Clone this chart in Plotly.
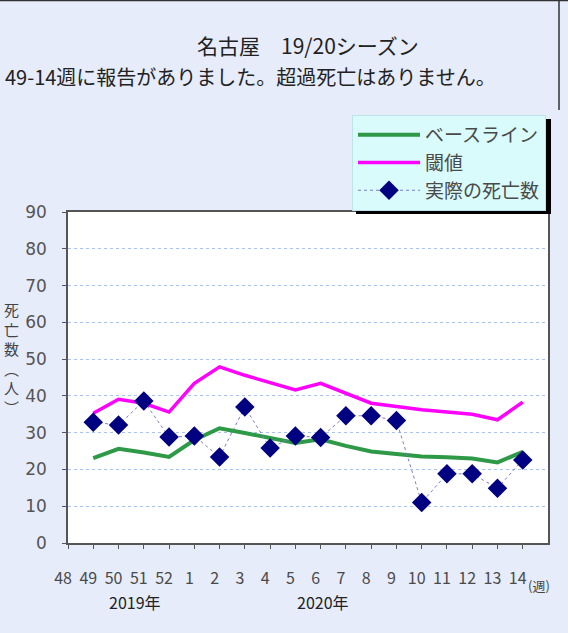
import plotly.graph_objects as go

weeks = ["48", "49", "50", "51", "52", "1", "2", "3", "4", "5", "6", "7",
         "8", "9", "10", "11", "12", "13", "14"]
data_weeks = weeks[1:]
baseline = [23.1, 25.6, 24.6, 23.4, 28.0, 31.2, 29.9, 28.5, 27.2, 28.2,
            26.4, 24.9, 24.2, 23.5, 23.3, 23.0, 21.9, 24.8]
threshold = [35.3, 39.1, 38.0, 35.6, 43.4, 47.9, 45.6, 43.5, 41.6, 43.4,
             40.7, 38.0, 37.1, 36.2, 35.6, 35.0, 33.5, 38.3]
actual = [32.8, 32.1, 38.6, 28.8, 29.1, 23.4, 37.0, 25.8, 29.1, 28.7,
          34.6, 34.6, 33.3, 11.0, 18.8, 18.8, 14.9, 22.6]
yticks = [0, 10, 20, 30, 40, 50, 60, 70, 80, 90]

FONT = "Noto Sans CJK JP"
L, T, PW, PH = 68, 212, 480, 331  # plot area in pixels


def px(x):
    return (x - L) / PW


def py(y):
    return (T + PH - y) / PH


fig = go.Figure()
fig.add_trace(go.Scatter(
    x=data_weeks, y=baseline, name="ベースライン", mode="lines",
    line=dict(color="#2E9A48", width=4)))
fig.add_trace(go.Scatter(
    x=data_weeks, y=threshold, name="閾値", mode="lines",
    line=dict(color="#FF00FF", width=3.5)))
fig.add_trace(go.Scatter(
    x=data_weeks, y=actual, name="実際の死亡数", mode="lines+markers",
    line=dict(color="#7C7CC8", width=1, dash="dot"),
    marker=dict(symbol="diamond", size=15, color="#000080",
                line=dict(width=0))))

fig.update_layout(
    width=568, height=633,
    margin=dict(l=L, r=568 - L - PW, t=T, b=633 - T - PH),
    paper_bgcolor="#E7ECFA",
    plot_bgcolor="#FFFFFF",
    font=dict(family=FONT, color="#444444"),
    showlegend=True,
    legend=dict(
        x=px(352), y=py(115), xanchor="left", yanchor="top",
        bgcolor="#D9FBFB", bordercolor="#BFE3EA", borderwidth=1,
        font=dict(size=19, color="#4A4A4A", family=FONT),
        itemwidth=62, tracegroupgap=0, traceorder="normal",
    ),
    xaxis=dict(
        type="category", categoryorder="array", categoryarray=weeks,
        range=[0, 19], tickmode="array", tickvals=weeks, ticktext=weeks,
        showgrid=False, zeroline=False,
        showline=True, linecolor="#555555", linewidth=1.5, mirror=True,
        ticks="outside", ticklen=4, tickcolor="#555555",
        tickfont=dict(size=16, color="#4A4A4A", family=FONT),
        ticklabelstandoff=16, ticklabelshift=-5,
    ),
    yaxis=dict(
        range=[0, 90], tickmode="array", tickvals=yticks,
        showgrid=True, gridcolor="#A9C2EE", griddash="dot", gridwidth=1.2,
        zeroline=False,
        showline=True, linecolor="#555555", linewidth=1.5, mirror=True,
        ticks="outside", ticklen=4, tickcolor="#555555",
        tickfont=dict(size=17, color="#555555", family="DejaVu Sans"),
        ticklabelstandoff=12,
    ),
)

# legend shadow
fig.add_shape(type="rect", xref="paper", yref="paper",
              x0=px(356), x1=px(551), y0=py(214), y1=py(119),
              fillcolor="#000000", line=dict(width=0), layer="above")
# frame edges
fig.add_shape(type="line", xref="paper", yref="paper",
              x0=px(0), x1=px(568), y0=py(0.5), y1=py(0.5),
              line=dict(color="#333333", width=1.5))
fig.add_shape(type="line", xref="paper", yref="paper",
              x0=px(559), x1=px(559), y0=py(0), y1=py(110),
              line=dict(color="#333333", width=1.5))

fig.add_annotation(text="名古屋　19/20シーズン", xref="paper", yref="paper",
                   x=px(308), y=py(45), xanchor="center", yanchor="middle",
                   showarrow=False,
                   font=dict(size=21, color="#222222", family=FONT))
fig.add_annotation(text="49-14週に報告がありました。超過死亡はありません。",
                   xref="paper", yref="paper",
                   x=px(250), y=py(77), xanchor="center", yanchor="middle",
                   showarrow=False,
                   font=dict(size=20, color="#222222", family=FONT))

# vertical y-axis title 死亡数（人）
fig.add_annotation(text="死<br>亡<br>数<br>︵<br>人<br>︶", xref="paper", yref="paper",
                   x=px(2), y=py(358), xanchor="left", yanchor="middle",
                   showarrow=False,
                   font=dict(size=15, color="#444444", family=FONT))

fig.add_annotation(text="(週)", xref="paper", yref="paper",
                   x=px(539), y=py(585), xanchor="center", yanchor="middle",
                   showarrow=False,
                   font=dict(size=13, color="#444444", family=FONT))
for txt, xc in [("2019年", 135), ("2020年", 323)]:
    fig.add_annotation(text=txt, xref="paper", yref="paper",
                       x=px(xc), y=py(602), xanchor="center", yanchor="middle",
                       showarrow=False,
                       font=dict(size=16, color="#222222", family=FONT))

fig.write_html("out.html",
               config={"displayModeBar": False},
               post_script="document.body.style.margin='0';"
                           "document.body.style.padding='0';")
